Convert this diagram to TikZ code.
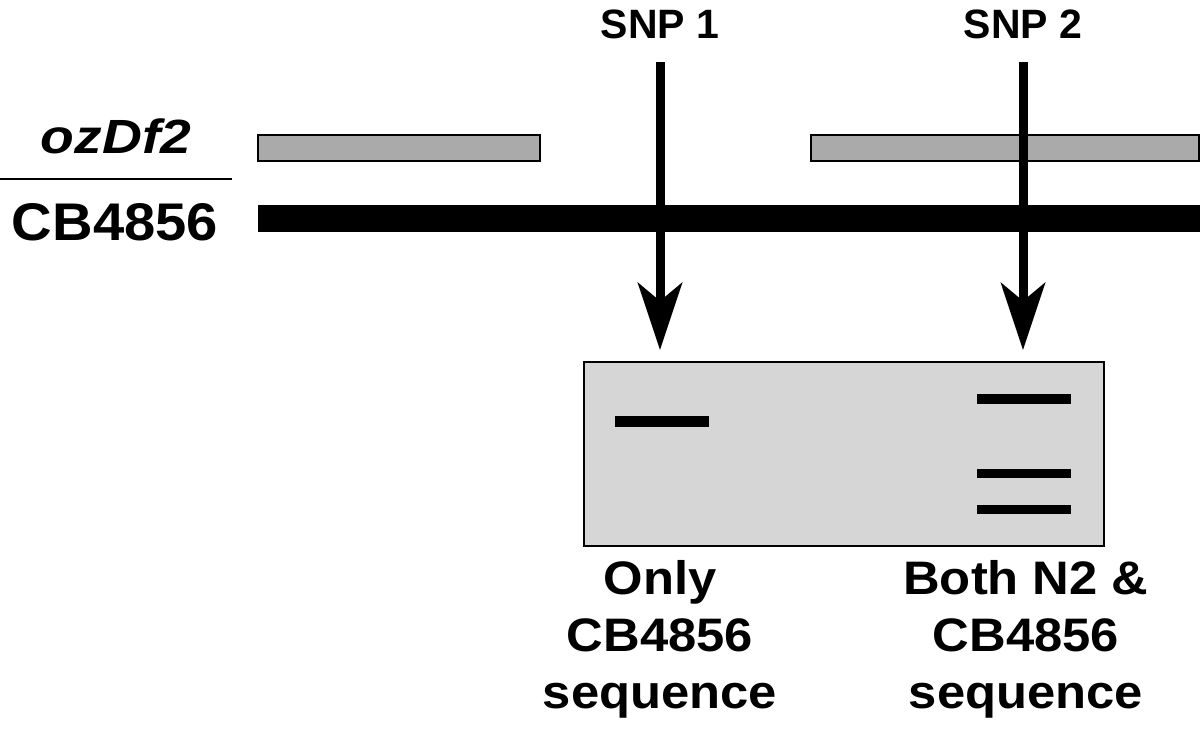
\documentclass[tikz,border=0pt]{standalone}
\usepackage{fontspec}
\setmainfont{Liberation Sans}
\newfontfamily\labfont[FakeStretch=1.08]{Liberation Sans}
\newfontfamily\leftfont[FakeStretch=1.06]{Liberation Sans}
\newfontfamily\ozfont[FakeStretch=1.15]{Liberation Sans}
\usetikzlibrary{arrows.meta}
\definecolor{bargrey}{HTML}{AAAAAA}
\definecolor{gelgrey}{HTML}{D6D6D6}
\tikzset{
  snplabel/.style={font=\fontsize{41}{41}\selectfont\bfseries, inner sep=0pt, anchor=base},
  resultlabel/.style={font=\labfont\fontsize{47}{57}\selectfont\bfseries, inner sep=0pt, align=center, anchor=base},
  greybar/.style={fill=bargrey, draw=black, line width=2pt},
  snparrow/.style={line width=9pt, -{Stealth[length=67pt,width=44pt,inset=18pt]}},
  band/.style={fill=black},
}
\begin{document}
\begin{tikzpicture}[x=1pt,y=-1pt]
\useasboundingbox (0,0) rectangle (1200,729);
% left labels
\node[font=\ozfont\fontsize{48}{48}\selectfont\bfseries\itshape, inner sep=0pt, anchor=base] (oz) at (116,153) {ozDf2};
\draw[line width=2.2pt] (0,179) -- (232,179);
\node[font=\leftfont\fontsize{53}{53}\selectfont\bfseries, inner sep=0pt, anchor=base] (cb) at (115,240) {CB4856};
% chromosome bars
\draw[greybar] (258,135) rectangle (540,161);
\draw[greybar] (811,135) rectangle (1199,161);
\fill[black] (258,205) rectangle (1200,232);
% gel
\node[draw=black, fill=gelgrey, line width=2pt, minimum width=520pt, minimum height=184pt, inner sep=0pt, anchor=north west] (gel) at (583,361) {};
\fill[band] (615,416) rectangle (709,427);
\fill[band] (977,394) rectangle (1071,404);
\fill[band] (977,469) rectangle (1071,478);
\fill[band] (977,505) rectangle (1071,514);
% SNP labels and arrows
\node[snplabel] (snp1) at (660,38) {SNP 1};
\node[snplabel] (snp2) at (1023,38) {SNP 2};
\coordinate (s1top) at (660,62);
\coordinate (s2top) at (1023,62);
\coordinate (s1tip) at (660,350);
\coordinate (s2tip) at (1023,350);
\draw[snparrow] (s1top) -- (s1tip);
\draw[snparrow] (s2top) -- (s2tip);
% result labels
\node[resultlabel] (res1) at (660,708) {Only\\CB4856\\sequence};
\node[resultlabel] (res2) at (1026,708) {Both N2 \&\\CB4856\\sequence};
\end{tikzpicture}
\end{document}
